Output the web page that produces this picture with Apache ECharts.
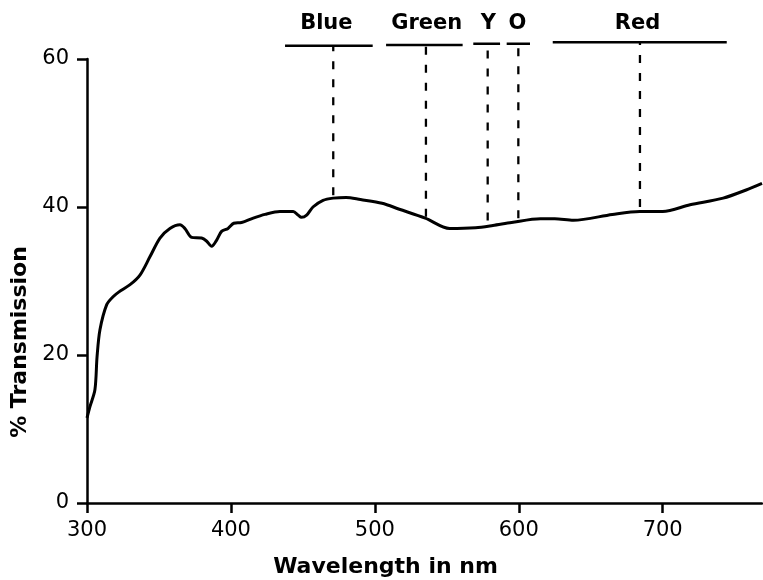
<!DOCTYPE html>
<html>
<head>
<meta charset="utf-8">
<script src="https://cdn.jsdelivr.net/npm/echarts@6/dist/echarts.min.js"></script>
<style>
  html, body { margin: 0; padding: 0; background: #fff; }
  #chart { width: 763px; height: 580px; }
</style>
</head>
<body>
<div id="chart"></div>
<script>
// transmission curve
const wavelengths = [300, 302, 305.5, 307, 309, 313.7, 318.3, 322, 329.9, 336.8, 343.8, 350.7, 357.6, 364.6, 368,
  372.7, 379.6, 383, 386.6, 390, 393.5, 398, 402, 407.4, 415.5, 423.6, 434, 443.3, 446.7, 449, 452.6, 457, 464,
  471, 480, 490, 505, 517, 535, 552, 570, 582, 595, 615, 625, 638, 665, 684, 700, 719, 742, 758, 769];
const transmission = [11.5, 13.0, 15.3, 19.8, 23.4, 26.8, 27.9, 28.5, 29.5, 30.8, 33.3, 35.8, 37.1, 37.6, 37.1,
  35.9, 35.8, 35.4, 34.7, 35.5, 36.7, 37.1, 37.8, 37.9, 38.5, 39.0, 39.4, 39.4, 38.9, 38.6, 38.9, 40.0, 40.9,
  41.2, 41.3, 41.0, 40.5, 39.7, 38.5, 37.1, 37.2, 37.5, 37.9, 38.4, 38.4, 38.2, 39.0, 39.4, 39.4, 40.3, 41.2, 42.3, 43.2];

const xTicks = [300, 400, 500, 600, 700];
const yTicks = [0, 20, 40, 60];

// colour bands above the plot
const bandNames = ['Blue', 'Green', 'Y', 'O', 'Red'];
const bandStart = [437.6, 507.8, 568.4, 591.6, 623.6];
const bandEnd = [498.5, 561.0, 587.0, 607.8, 744.5];
const bandLevel = [61.8, 61.9, 62.1, 62.1, 62.3];
const dropX = [471.1, 535.5, 578.4, 599.7, 684.2];
const dropBottom = [41.6, 38.7, 38.2, 38.5, 40.0];
const labelX = [466.3, 536.0, 578.8, 599.0, 682.5];
const labelLevel = 64.8;

const INK = '#000';
const FONT = 'DejaVu Sans';

const chart = echarts.init(document.getElementById('chart'));

const series = [{
  type: 'line',
  xAxisIndex: 0,
  yAxisIndex: 0,
  data: wavelengths.map((w, i) => [w, transmission[i]]),
  smooth: 0.3,
  showSymbol: false,
  symbol: 'none',
  lineStyle: { color: INK, width: 3 },
  silent: true,
}];

bandNames.forEach((name, i) => {
  series.push({
    type: 'line',
    xAxisIndex: 1,
    yAxisIndex: 1,
    data: [[bandStart[i], bandLevel[i]], [bandEnd[i], bandLevel[i]]],
    symbol: 'none',
    lineStyle: { color: INK, width: 2.5 },
    silent: true,
  });
  series.push({
    type: 'line',
    xAxisIndex: 1,
    yAxisIndex: 1,
    data: [[dropX[i], dropBottom[i]], [dropX[i], bandLevel[i]]],
    symbol: 'none',
    lineStyle: { color: INK, width: 2.3, type: [8, 10] },
    silent: true,
  });
});

series.push({
  type: 'scatter',
  xAxisIndex: 1,
  yAxisIndex: 1,
  symbolSize: 0,
  itemStyle: { color: INK, opacity: 1 },
  data: bandNames.map((name, i) => ({ name, value: [labelX[i], labelLevel] })),
  label: {
    show: true,
    position: 'inside',
    formatter: (p) => p.name,
    color: INK,
    textBorderWidth: 0,
    fontFamily: FONT,
    fontWeight: 'bold',
    fontSize: 21,
  },
  silent: true,
});

chart.setOption({
  animation: false,
  backgroundColor: '#fff',
  grid: [
    { left: 87, right: 1, top: 59, bottom: 77 },
    { left: 87, right: 1, top: 0, bottom: 77 },
  ],
  xAxis: [{
    type: 'value',
    gridIndex: 0,
    min: 300,
    max: 769,
    interval: 100,
    splitLine: { show: false },
    axisLine: { lineStyle: { color: INK, width: 2.5 } },
    axisTick: { customValues: xTicks, length: 10, lineStyle: { color: INK, width: 2.5 } },
    axisLabel: { customValues: xTicks, color: INK, fontFamily: FONT, fontSize: 21, margin: 17 },
  }, {
    type: 'value',
    gridIndex: 1,
    min: 300,
    max: 769,
    show: false,
  }],
  yAxis: [{
    type: 'value',
    gridIndex: 0,
    min: 0,
    max: 60,
    interval: 20,
    splitLine: { show: false },
    axisLine: { show: true, lineStyle: { color: INK, width: 2.5 } },
    axisTick: { show: true, customValues: yTicks, length: 10, lineStyle: { color: INK, width: 2.5 } },
    axisLabel: { customValues: yTicks, color: INK, fontFamily: FONT, fontSize: 21, margin: 18 },
  }, {
    type: 'value',
    gridIndex: 1,
    min: 0,
    max: 68,
    show: false,
  }],
  graphic: [{
    type: 'text',
    x: 385.5,
    y: 567,
    style: {
      text: 'Wavelength in nm',
      fill: INK,
      font: 'bold 22px "DejaVu Sans"',
      textAlign: 'center',
      textVerticalAlign: 'middle',
    },
  }, {
    type: 'text',
    x: 20,
    y: 342,
    rotation: Math.PI / 2,
    style: {
      text: '% Transmission',
      fill: INK,
      font: 'bold 22px "DejaVu Sans"',
      textAlign: 'center',
      textVerticalAlign: 'middle',
    },
  }],
  series,
});
</script>
</body>
</html>
